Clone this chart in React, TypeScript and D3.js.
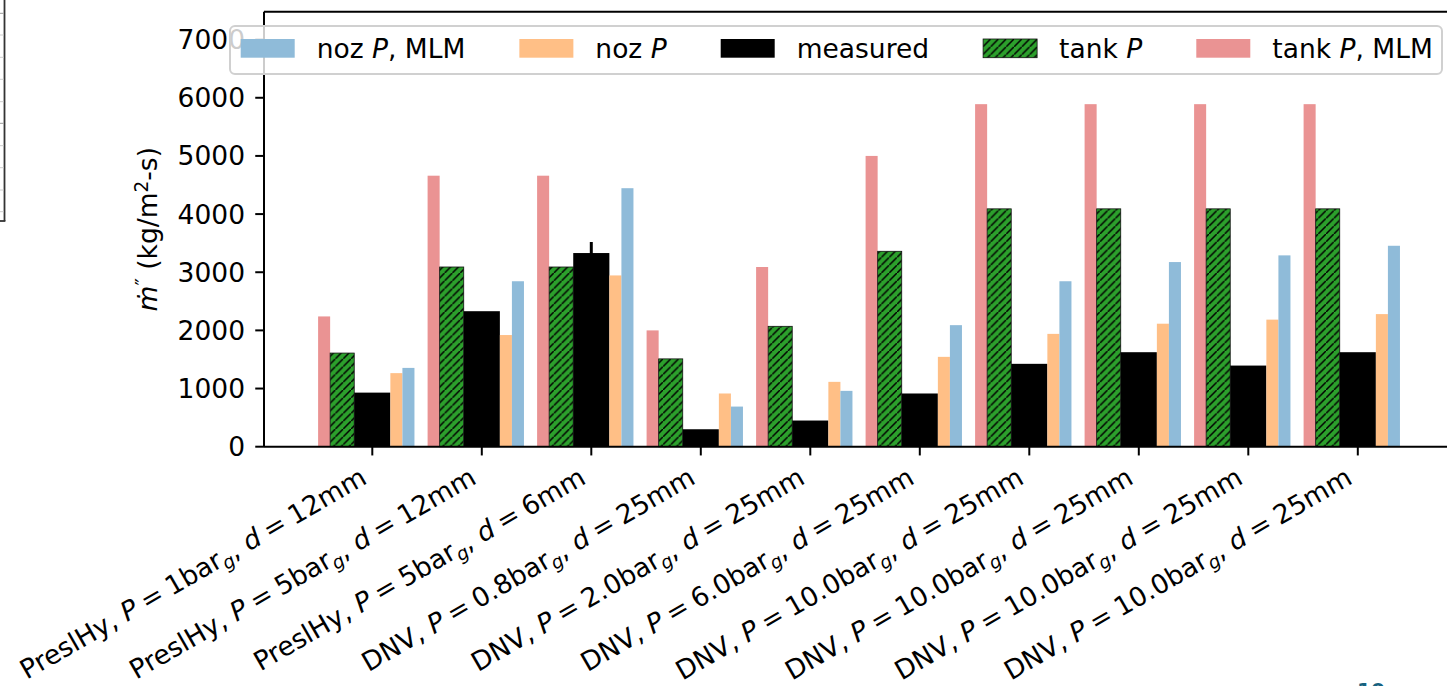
import React, { useEffect, useRef } from "react";
import * as d3 from "d3";

// Test cases: source, tank pressure (bar_g) and orifice diameter (mm)
const sources = ["PreslHy", "PreslHy", "PreslHy", "DNV", "DNV", "DNV", "DNV", "DNV", "DNV", "DNV"];
const pressures = ["1", "5", "5", "0.8", "2.0", "6.0", "10.0", "10.0", "10.0", "10.0"];
const diameters = ["12", "12", "6", "25", "25", "25", "25", "25", "25", "25"];

// Mass flux, kg/m^2-s
const tankPMLM = [2240, 4660, 4660, 2000, 3090, 5000, 5890, 5890, 5890, 5890];
const tankP = [1610, 3090, 3090, 1510, 2070, 3360, 4090, 4090, 4090, 4090];
const measured = [930, 2330, 3330, 300, 450, 915, 1425, 1625, 1395, 1625];
const measuredErr = [0, 0, 190, 0, 0, 0, 0, 0, 0, 0];
const nozP = [1265, 1920, 2945, 915, 1115, 1545, 1940, 2115, 2185, 2280];
const nozPMLM = [1355, 2845, 4445, 690, 960, 2090, 2845, 3175, 3290, 3455];

const yTicks = [0, 1000, 2000, 3000, 4000, 5000, 6000, 7000];

const W = 1447;
const H = 686;
const FONT = "DejaVu Sans, sans-serif";
const FS = 26.5;
// math-mode spacing around "="
const SP = "\u2005";

export default function App() {
  const ref = useRef<SVGSVGElement>(null);

  useEffect(() => {
    const svg = d3.select(ref.current);
    svg.selectAll("*").remove();

    const left = 264;
    const top = 11.7;
    const bottom = 446.7;

    const x = d3.scaleLinear().domain([0, 9]).range([372.3, 1357.8]);
    const unit = x(1) - x(0);
    const y = d3.scaleLinear().domain([0, 7480]).range([bottom, top]);

    const defs = svg.append("defs");
    const hatch = defs
      .append("pattern")
      .attr("id", "hatch")
      .attr("patternUnits", "userSpaceOnUse")
      .attr("width", 7.8)
      .attr("height", 7.8);
    hatch.append("rect").attr("width", 7.8).attr("height", 7.8).attr("fill", "#2ca02c");
    hatch
      .append("path")
      .attr("d", "M-1,8.8 L8.8,-1 M-2,1 L1,-2 M6.8,9.8 L9.8,6.8")
      .attr("stroke", "#000")
      .attr("stroke-width", 1.5);

    svg.append("rect").attr("width", W).attr("height", H).attr("fill", "#fff");

    // neighbouring panel edge on the far left
    const edge = svg.append("g");
    edge.append("line").attr("x1", 4.5).attr("x2", 4.5).attr("y1", 0).attr("y2", 221)
      .attr("stroke", "#333").attr("stroke-width", 1.8);
    edge.append("line").attr("x1", 0).attr("x2", 5.4).attr("y1", 221).attr("y2", 221)
      .attr("stroke", "#333").attr("stroke-width", 1.8);
    [13.3, 35, 57.3, 79.3, 101.7, 123.3, 145.7, 167.7, 190, 211.7].forEach((ty, k) => {
      edge.append("line").attr("x1", 0).attr("x2", 3.6).attr("y1", ty).attr("y2", ty)
        .attr("stroke", k === 0 || k === 5 ? "#999" : "#ccc").attr("stroke-width", 1);
    });

    const series = [
      { key: "tankPMLM", values: tankPMLM, fill: "#ea9393", off: -0.495, w: 0.11 },
      { key: "tankP", values: tankP, fill: "url(#hatch)", off: -0.385, w: 0.22, stroke: "#111" },
      { key: "measured", values: measured, fill: "#000", off: -0.165, w: 0.33 },
      { key: "nozP", values: nozP, fill: "#ffbf86", off: 0.165, w: 0.11 },
      { key: "nozPMLM", values: nozPMLM, fill: "#8fbbd9", off: 0.275, w: 0.11 },
    ];

    const bars = svg.append("g");
    series.forEach((s) => {
      bars
        .append("g")
        .selectAll("rect")
        .data(s.values)
        .join("rect")
        .attr("x", (_d, i) => x(i) + s.off * unit)
        .attr("width", s.w * unit)
        .attr("y", (d) => y(d))
        .attr("height", (d) => y(0) - y(d))
        .attr("fill", s.fill)
        .attr("stroke", s.stroke || "none")
        .attr("stroke-width", s.stroke ? 0.8 : 0);
    });

    // error bars on the measured values
    svg
      .append("g")
      .selectAll("line")
      .data(measured.map((v, i) => ({ v, e: measuredErr[i], i })).filter((d) => d.e > 0))
      .join("line")
      .attr("x1", (d) => x(d.i))
      .attr("x2", (d) => x(d.i))
      .attr("y1", (d) => y(d.v - d.e))
      .attr("y2", (d) => y(d.v + d.e))
      .attr("stroke", "#000")
      .attr("stroke-width", 3);

    // spines
    const ax = svg.append("g").attr("stroke", "#000").attr("stroke-width", 2);
    ax.append("line").attr("x1", left).attr("x2", W).attr("y1", bottom).attr("y2", bottom);
    ax.append("line").attr("x1", left).attr("x2", W).attr("y1", top).attr("y2", top);
    ax.append("line").attr("x1", left).attr("x2", left).attr("y1", top).attr("y2", bottom);

    // y ticks
    const yt = svg.append("g");
    yTicks.forEach((t) => {
      yt.append("line").attr("x1", left - 8.75).attr("x2", left).attr("y1", y(t)).attr("y2", y(t))
        .attr("stroke", "#000").attr("stroke-width", 2);
      yt.append("text").attr("x", left - 19).attr("y", y(t)).attr("dy", "0.36em")
        .attr("text-anchor", "end").attr("font-family", FONT).attr("font-size", FS)
        .attr("fill", "#000").text(d3.format("d")(t));
    });

    // y label
    const yl = svg.append("text")
      .attr("transform", `translate(157,${(top + bottom) / 2}) rotate(-90)`)
      .attr("text-anchor", "middle").attr("font-family", FONT).attr("font-size", FS).attr("fill", "#000");
    yl.append("tspan").attr("font-style", "italic").text("\u1E41");
    yl.append("tspan").attr("font-size", FS * 0.75).attr("dy", -8).text("\u2033");
    yl.append("tspan").attr("dy", 8).text(" (kg/m");
    yl.append("tspan").attr("font-size", FS * 0.7).attr("dy", -9).text("2");
    yl.append("tspan").attr("dy", 9).text("-s)");

    // x ticks and rotated labels
    const xt = svg.append("g");
    sources.forEach((src, i) => {
      const tx = x(i);
      xt.append("line").attr("x1", tx).attr("x2", tx).attr("y1", bottom).attr("y2", bottom + 8.75)
        .attr("stroke", "#000").attr("stroke-width", 2);
      const t = xt.append("text")
        .attr("transform", `translate(${tx - 4},${bottom + 36}) rotate(-30)`)
        .attr("text-anchor", "end").attr("font-family", FONT).attr("font-size", FS).attr("fill", "#000");
      t.append("tspan").text(`${src}, `);
      t.append("tspan").attr("font-style", "italic").text("P");
      t.append("tspan").text(`${SP}=${SP}${pressures[i]}bar`);
      t.append("tspan").attr("font-style", "italic").attr("font-size", FS * 0.7).attr("dy", 5).text("g");
      t.append("tspan").attr("dy", -5).text(", ");
      t.append("tspan").attr("font-style", "italic").text("d");
      t.append("tspan").text(`${SP}=${SP}${diameters[i]}mm`);
    });

    // legend
    const legendItems = [
      { parts: ["noz ", "P", ", MLM"], fill: "#8fbbd9" },
      { parts: ["noz ", "P", ""], fill: "#ffbf86" },
      { parts: ["measured", "", ""], fill: "#000" },
      { parts: ["tank ", "P", ""], fill: "url(#hatch)" },
      { parts: ["tank ", "P", ", MLM"], fill: "#ea9393" },
    ];
    const lg = svg.append("g");
    lg.append("rect").attr("x", 230).attr("y", 26).attr("width", 1212).attr("height", 48)
      .attr("rx", 5).attr("fill", "#fff").attr("fill-opacity", 0.8)
      .attr("stroke", "#d0d0d0").attr("stroke-width", 2);
    let cx = 240.7;
    legendItems.forEach((it) => {
      lg.append("rect").attr("x", cx).attr("y", 39).attr("width", 54).attr("height", 18.7)
        .attr("fill", it.fill).attr("stroke", it.fill === "url(#hatch)" ? "#111" : "none")
        .attr("stroke-width", 0.8);
      const t = lg.append("text").attr("x", cx + 54 + 22).attr("y", 57.5)
        .attr("font-family", FONT).attr("font-size", FS).attr("fill", "#000");
      t.append("tspan").text(it.parts[0]);
      if (it.parts[1]) t.append("tspan").attr("font-style", "italic").text(it.parts[1]);
      if (it.parts[2]) t.append("tspan").text(it.parts[2]);
      const len = (t.node() as SVGTextElement).getComputedTextLength();
      cx = cx + 54 + 22 + len + 54;
    });

    // slide page number, cut by the bottom edge
    svg.append("text").attr("x", 1357).attr("y", 697).attr("font-family", FONT)
      .attr("font-size", 20).attr("font-weight", "bold").attr("fill", "#16627f").text("10");
  }, []);

  return (
    <div style={{ position: "fixed", left: 0, top: 0, width: W, height: H, background: "#fff" }}>
      <svg ref={ref} width={W} height={H} style={{ display: "block" }} />
    </div>
  );
}
